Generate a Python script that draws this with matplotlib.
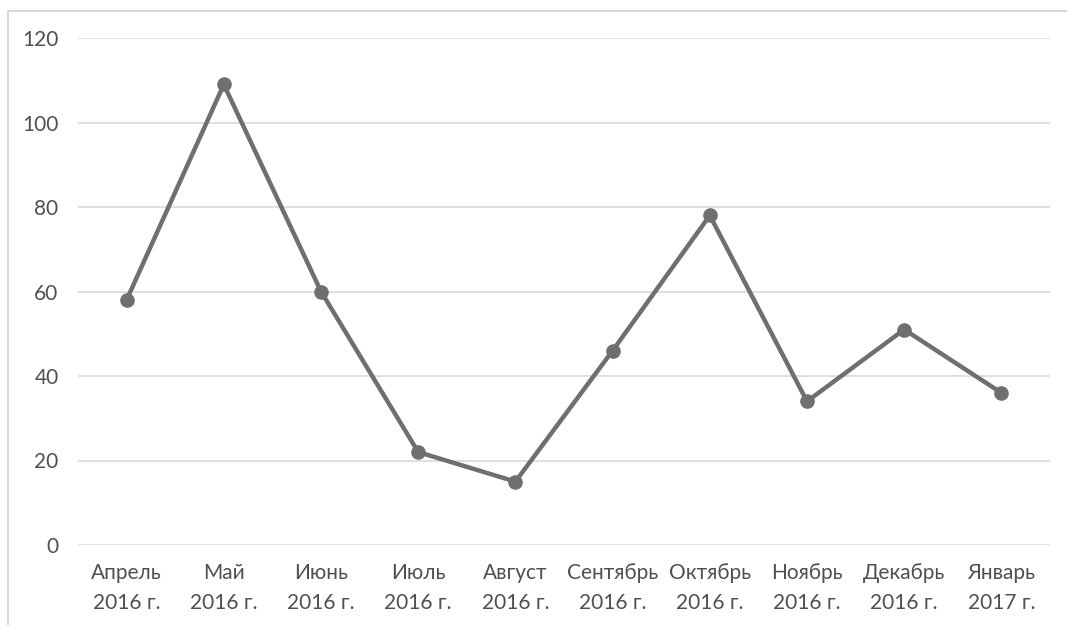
import matplotlib
matplotlib.use("Agg")
import matplotlib.pyplot as plt
from matplotlib.patches import Rectangle

months = ["Апрель", "Май", "Июнь", "Июль", "Август", "Сентябрь",
          "Октябрь", "Ноябрь", "Декабрь", "Январь"]
years = ["2016 г.", "2016 г.", "2016 г.", "2016 г.", "2016 г.", "2016 г.",
         "2016 г.", "2016 г.", "2016 г.", "2017 г."]
values = [58, 109, 60, 22, 15, 46, 78, 34, 51, 36]
y_ticks = [0, 20, 40, 60, 80, 100, 120]

text_color = "#505050"
line_color = "#6f6f6f"
grid_color = "#d9d9d9"

plt.rcParams["font.family"] = ["Lato", "DejaVu Sans"]

fig = plt.figure(figsize=(10.67, 6.25), dpi=100)
ax = fig.add_axes([0.0731, 0.128, 0.9110, 0.8112])

# outer chart frame (left and top edges visible)
fig.patches.append(Rectangle((7.5 / 1067, -0.1), 1.2, 1.1 - 11 / 625,
                             transform=fig.transFigure, fill=False,
                             edgecolor=grid_color, linewidth=1.5, zorder=0))

x = list(range(len(values)))
ax.plot(x, values, color=line_color, linewidth=3.2, marker="o",
        markersize=9.5, markerfacecolor=line_color, markeredgecolor=line_color,
        solid_capstyle="round", zorder=3)

ax.set_xlim(-0.5, len(values) - 0.5)
ax.set_ylim(0, 120)
ax.set_yticks(y_ticks)
ax.set_xticks(x)
ax.set_xticklabels([f"{m}\n{y}" for m, y in zip(months, years)],
                   linespacing=1.6)
ax.tick_params(axis="both", length=0, labelsize=15, colors=text_color)
ax.tick_params(axis="y", pad=14)
ax.tick_params(axis="x", pad=13)

ax.grid(axis="y", color=grid_color, linewidth=1.2)
ax.set_axisbelow(True)
for s in ax.spines.values():
    s.set_visible(False)

fig.savefig("out.png", dpi=100, facecolor="white")
